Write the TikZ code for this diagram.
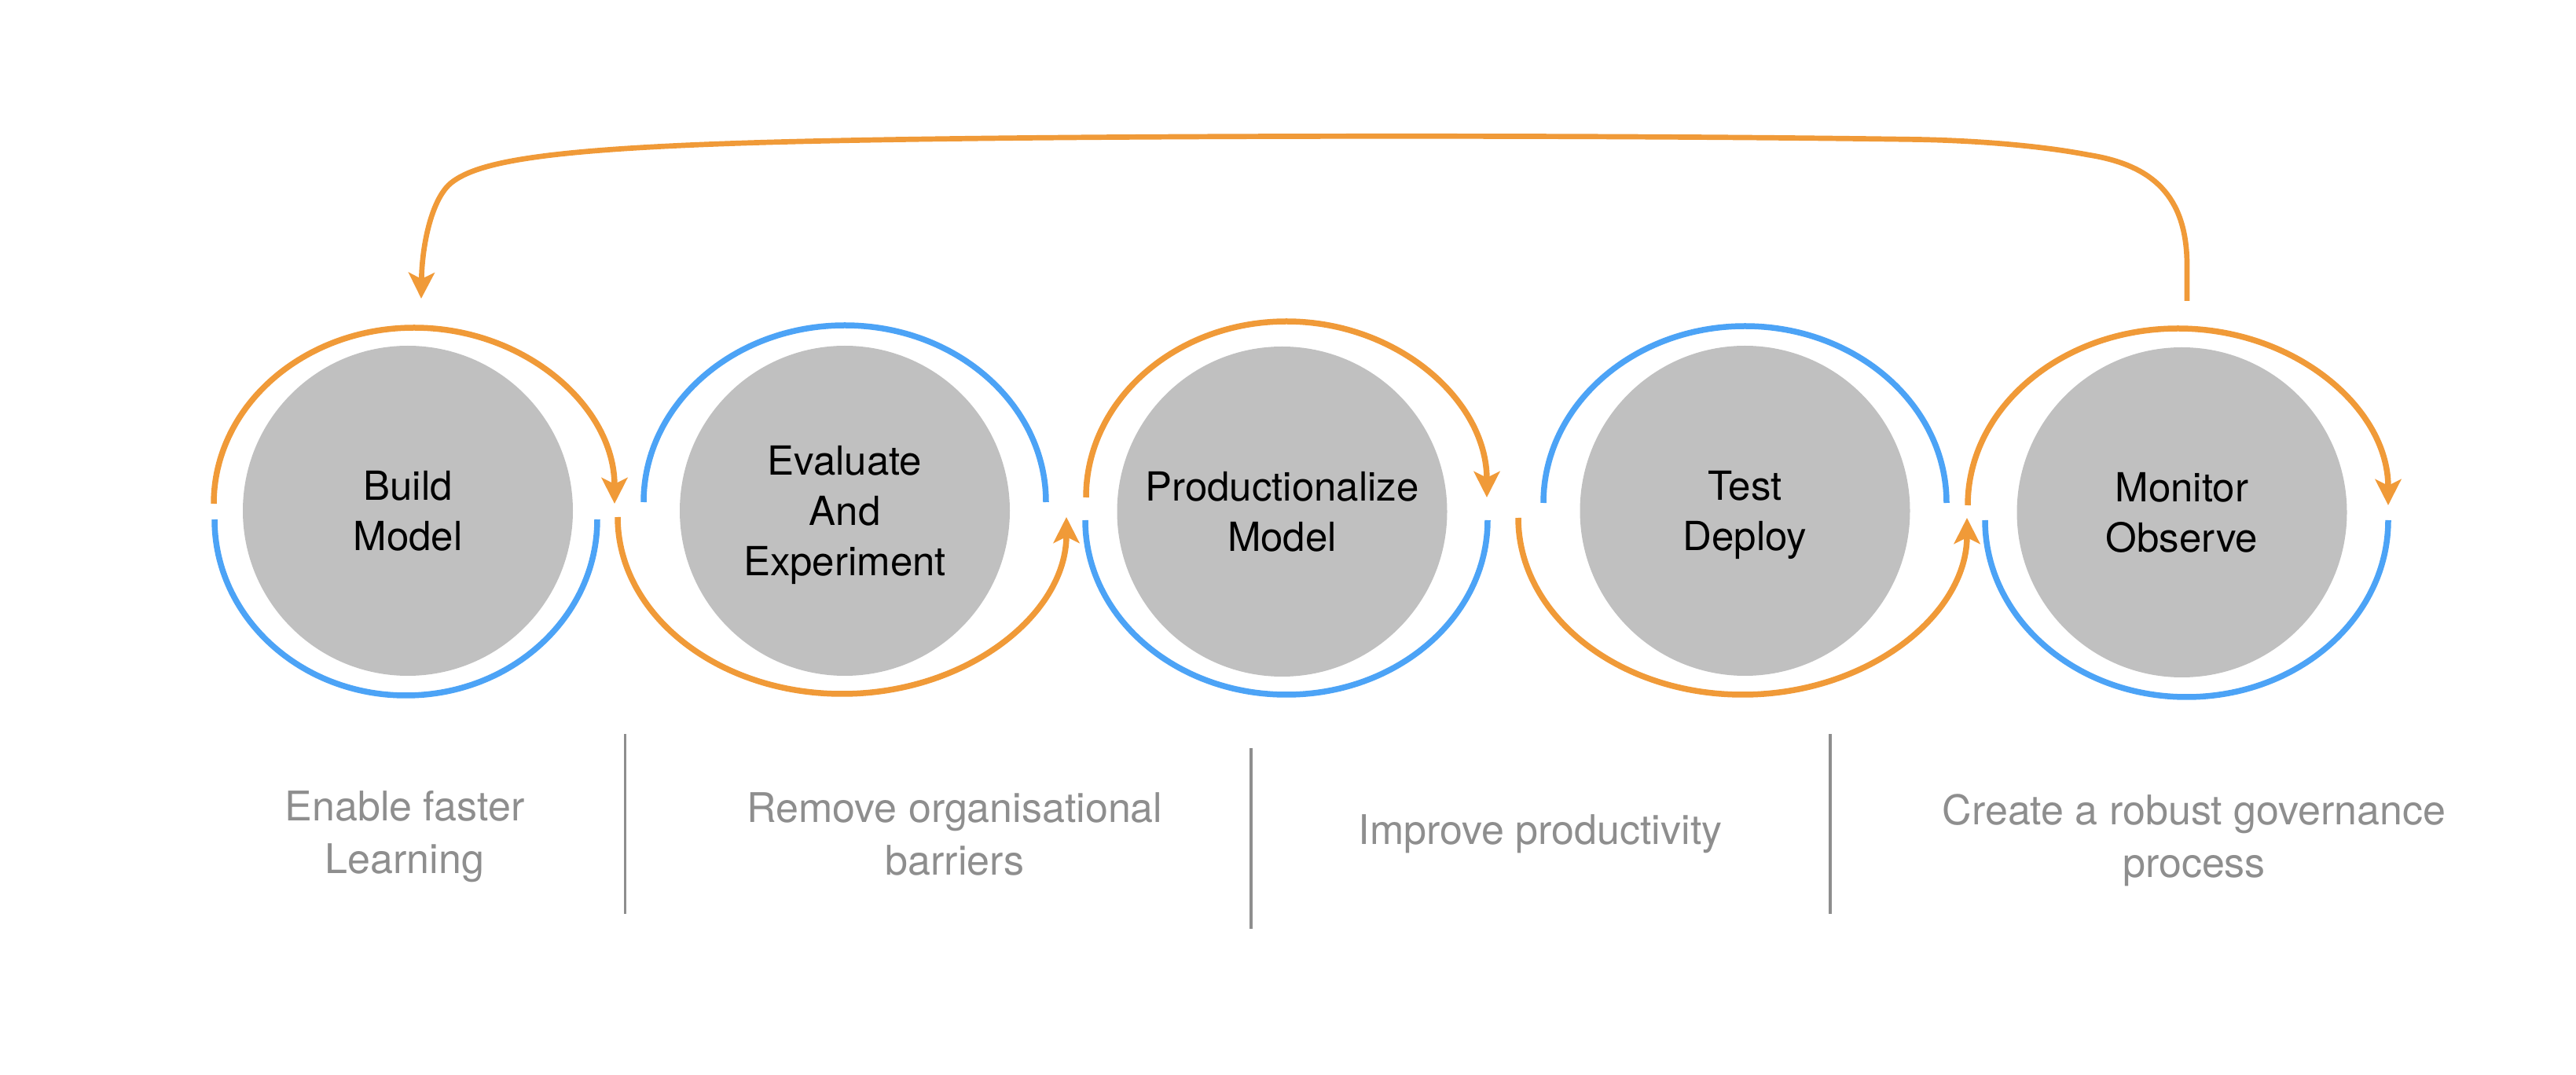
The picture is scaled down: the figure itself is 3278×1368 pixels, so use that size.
\documentclass[tikz,border=0pt]{standalone}
\usepackage{fontspec}
\setmainfont{TeX Gyre Heros}
\usetikzlibrary{arrows.meta}
\definecolor{ringorange}{HTML}{F09A38}
\definecolor{ringblue}{HTML}{4CA3F6}
\definecolor{stationgray}{HTML}{C0C0C0}
\definecolor{captiongray}{HTML}{8E8E8E}
\begin{document}
\begin{tikzpicture}[x=0.5pt,y=0.5pt,
  station/.style={circle, fill=stationgray, minimum size=210pt, inner sep=0pt,
    align=center, text depth=0pt, font=\fontsize{25.5}{32}\selectfont},
  caption/.style={text=captiongray, align=center, inner sep=0pt, text depth=0pt,
    anchor=south, font=\fontsize{26}{33.5}\selectfont},
  ringo/.style={draw=ringorange, line width=3.75pt},
  ringb/.style={draw=ringblue, line width=3.75pt},
  loopline/.style={draw=ringorange, line width=3.35pt},
  flowtip/.style={-{Stealth[length=16.5pt,width=16.5pt,inset=4pt]}},
  sepline/.style={draw=captiongray, line width=1.75pt}]
\useasboundingbox (0,0) rectangle (3278,-1368);

% stations
\node[station] (build) at (519,-650) {Build\\Model};
\node[station] (eval) at (1075,-650) {Evaluate\\And\\Experiment};
\node[station] (prod) at (1631.5,-651) {Productionalize\\Model};
\node[station] (test) at (2220.5,-650) {Test\\Deploy};
\node[station] (mon) at (2776.5,-652) {Monitor\\Observe};

% rings: station 1
\draw[ringo, flowtip] (272,-641) arc[start angle=180, end angle=0, x radius=255, y radius=224];
\draw[ringb] (273,-661) arc[start angle=180, end angle=360, x radius=243.5, y radius=224];
% station 2
\draw[ringb] (819,-639) arc[start angle=180, end angle=0, x radius=256, y radius=225];
\draw[ringo, flowtip] (786,-658) arc[start angle=180, end angle=360, x radius=285.5, y radius=225];
% station 3
\draw[ringo, flowtip] (1382,-633) arc[start angle=180, end angle=0, x radius=255, y radius=224];
\draw[ringb] (1381,-662) arc[start angle=180, end angle=360, x radius=256, y radius=222];
% station 4
\draw[ringb] (1964,-640) arc[start angle=180, end angle=0, x radius=256.5, y radius=225];
\draw[ringo, flowtip] (1932,-659) arc[start angle=180, end angle=360, x radius=285.5, y radius=225];
% station 5
\draw[ringo, flowtip] (2504,-643) arc[start angle=180, end angle=0, x radius=267.5, y radius=225];
\draw[ringb] (2526,-662) arc[start angle=180, end angle=360, x radius=256.5, y radius=225];

% loop back from Monitor to Build
\coordinate (loopstart) at (2783,-383);
\coordinate (loopend) at (536,-380);
\draw[loopline, flowtip] (loopstart) -- (2783,-335)
  .. controls (2782,-250) and (2740,-210) .. (2657,-197)
  .. controls (2600,-186) and (2520,-179) .. (2440,-177.5)
  .. controls (2000,-171) and (1300,-172) .. (980,-181)
  .. controls (700,-189) and (610,-205) .. (575,-232)
  .. controls (550,-251) and (537,-310) .. (loopend);

% separators
\coordinate (s1t) at (795.5,-934);  \coordinate (s1b) at (795.5,-1163);
\coordinate (s2t) at (1592,-952);   \coordinate (s2b) at (1592,-1182);
\coordinate (s3t) at (2329,-934);   \coordinate (s3b) at (2329,-1163);
\draw[sepline] (s1t) -- (s1b);
\draw[sepline] (s2t) -- (s2b);
\draw[sepline] (s3t) -- (s3b);

% captions
\node[caption] (c1) at (515,-1112) {Enable faster\\Learning};
\node[caption] (c2) at (1215,-1114) {Remove organisational\\barriers};
\node[caption] (c3) at (1960,-1075) {Improve productivity};
\node[caption] (c4) at (2792,-1117) {Create a robust governance\\process};
\end{tikzpicture}
\end{document}
